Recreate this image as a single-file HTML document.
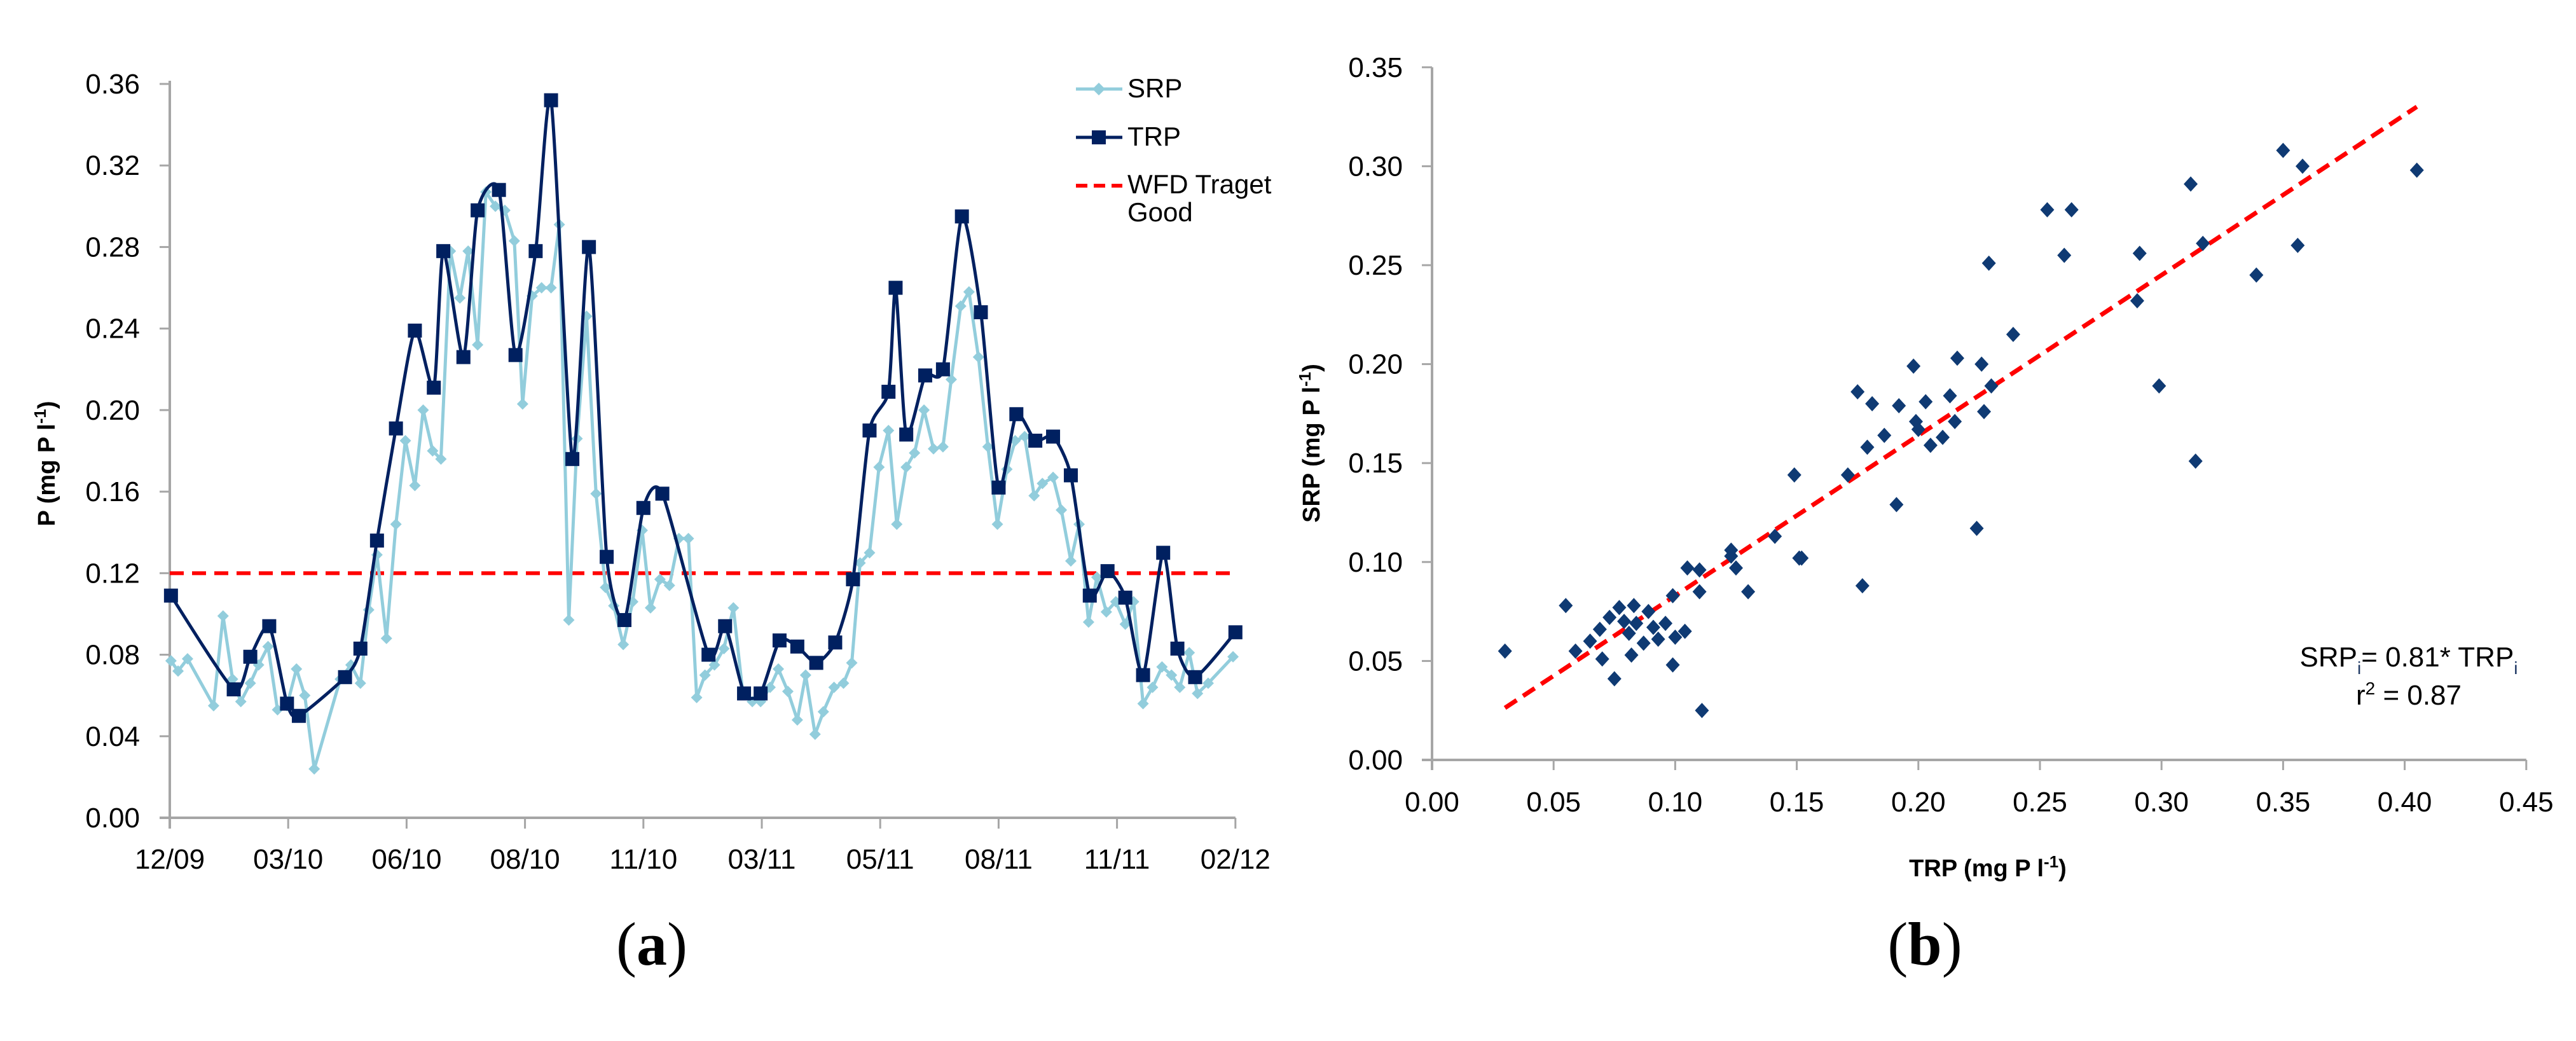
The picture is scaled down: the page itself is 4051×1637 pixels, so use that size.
<!DOCTYPE html>
<html><head><meta charset="utf-8">
<style>
html,body{margin:0;padding:0;background:#fff;}
svg{display:block;}
text{font-family:"Liberation Sans",sans-serif;fill:#000;}
</style></head>
<body>
<svg id="fig" width="4051" height="1637" viewBox="0 0 4051 1637" xmlns="http://www.w3.org/2000/svg">
<g id="chartA"></g>
<g id="chartB"></g>
</svg>
<script>
// ---- Chart (a) data ----
const xTickLabelsA = ["12/09","03/10","06/10","08/10","11/10","03/11","05/11","08/11","11/11","02/12"];
const yTicksA = [0,0.04,0.08,0.12,0.16,0.20,0.24,0.28,0.32,0.36];
const trpT = [0.01,0.54,0.68,0.84,0.99,1.09,1.48,1.61,1.75,1.91,2.07,2.23,2.31,2.48,2.60,2.78,2.92,3.09,3.22,3.40,3.54,3.69,3.84,4.00,4.16,4.55,4.69,4.85,4.99,5.15,5.30,5.46,5.62,5.77,5.91,6.07,6.13,6.22,6.38,6.53,6.69,6.85,7.00,7.15,7.31,7.46,7.61,7.77,7.92,8.07,8.22,8.39,8.51,8.66,9.00];
const trpV = [0.109,0.063,0.079,0.094,0.056,0.050,0.069,0.083,0.136,0.191,0.239,0.211,0.278,0.226,0.298,0.308,0.227,0.278,0.352,0.176,0.280,0.128,0.097,0.152,0.159,0.080,0.094,0.061,0.061,0.087,0.084,0.076,0.086,0.117,0.190,0.209,0.260,0.188,0.217,0.220,0.295,0.248,0.162,0.198,0.185,0.187,0.168,0.109,0.121,0.108,0.070,0.130,0.083,0.069,0.091];
const srpT = [0.01,0.07,0.15,0.37,0.45,0.53,0.60,0.68,0.75,0.83,0.91,0.99,1.07,1.14,1.22,1.44,1.53,1.61,1.68,1.75,1.83,1.91,1.99,2.07,2.14,2.22,2.29,2.37,2.45,2.52,2.60,2.67,2.75,2.83,2.91,2.98,3.06,3.14,3.22,3.29,3.37,3.44,3.52,3.60,3.68,3.75,3.83,3.91,3.99,4.06,4.14,4.22,4.30,4.38,4.45,4.52,4.60,4.68,4.76,4.84,4.92,4.99,5.07,5.14,5.22,5.30,5.37,5.45,5.52,5.61,5.69,5.76,5.83,5.91,5.99,6.07,6.14,6.22,6.29,6.37,6.45,6.53,6.60,6.68,6.75,6.83,6.91,6.99,7.07,7.14,7.22,7.30,7.37,7.46,7.53,7.61,7.68,7.76,7.83,7.91,7.99,8.07,8.14,8.22,8.30,8.38,8.46,8.53,8.61,8.68,8.77,8.98];
const srpV = [0.077,0.072,0.078,0.055,0.099,0.068,0.057,0.066,0.075,0.084,0.053,0.055,0.073,0.060,0.024,0.068,0.075,0.066,0.102,0.129,0.088,0.144,0.185,0.163,0.200,0.180,0.176,0.278,0.255,0.278,0.232,0.307,0.300,0.298,0.283,0.203,0.256,0.260,0.260,0.291,0.097,0.186,0.246,0.159,0.113,0.104,0.085,0.106,0.141,0.103,0.117,0.114,0.137,0.137,0.059,0.070,0.075,0.083,0.103,0.061,0.057,0.057,0.064,0.073,0.062,0.048,0.070,0.041,0.052,0.064,0.066,0.076,0.125,0.130,0.172,0.190,0.144,0.172,0.179,0.200,0.181,0.182,0.215,0.251,0.258,0.226,0.182,0.144,0.171,0.185,0.187,0.158,0.164,0.167,0.151,0.126,0.144,0.096,0.118,0.101,0.106,0.095,0.106,0.056,0.064,0.074,0.070,0.064,0.081,0.061,0.066,0.079];
const targetA = 0.12;

// ---- Chart (b) data ----
const xTicksB = [0,0.05,0.10,0.15,0.20,0.25,0.30,0.35,0.40,0.45];
const yTicksB = [0,0.05,0.10,0.15,0.20,0.25,0.30,0.35];
const scatTRP = [0.030,0.055,0.059,0.065,0.069,0.070,0.073,0.075,0.077,0.079,0.081,0.082,0.083,0.084,0.087,0.089,0.091,0.093,0.096,0.099,0.099,0.100,0.104,0.105,0.110,0.110,0.111,0.123,0.123,0.125,0.130,0.141,0.149,0.151,0.152,0.171,0.175,0.177,0.179,0.181,0.186,0.191,0.192,0.198,0.199,0.200,0.203,0.205,0.210,0.213,0.215,0.216,0.224,0.226,0.227,0.229,0.230,0.239,0.253,0.260,0.263,0.290,0.291,0.299,0.312,0.314,0.317,0.339,0.350,0.356,0.358,0.405];
const scatSRP = [0.055,0.078,0.055,0.060,0.066,0.051,0.072,0.041,0.077,0.070,0.064,0.053,0.078,0.069,0.059,0.075,0.067,0.061,0.069,0.083,0.048,0.062,0.065,0.097,0.096,0.085,0.025,0.106,0.103,0.097,0.085,0.113,0.144,0.102,0.102,0.144,0.186,0.088,0.158,0.180,0.164,0.129,0.179,0.199,0.171,0.167,0.181,0.159,0.163,0.184,0.171,0.203,0.117,0.200,0.176,0.251,0.189,0.215,0.278,0.255,0.278,0.232,0.256,0.189,0.291,0.151,0.261,0.245,0.308,0.260,0.300,0.298];
const fitSlope = 0.81, fitIntercept = 0.002, fitRange = [0.03, 0.405];

const NS = "http://www.w3.org/2000/svg";
function mk(parent, tag, attrs, txt){
  const e = document.createElementNS(NS, tag);
  for (const k in attrs) e.setAttribute(k, attrs[k]);
  if (txt !== undefined) e.textContent = txt;
  parent.appendChild(e); return e;
}
const AXC = "#A6A6A6";

// ===== Chart A =====
const A = document.getElementById('chartA');
const ax0 = 267, axStep = 186.2, ay0 = 1286, ayTop = 132;
const xA = t => ax0 + t * axStep;
const yA = v => ay0 - v / 0.36 * (ay0 - ayTop);

yTicksA.forEach(v => {
  const y = yA(v);
  const tk = mk(A, 'line', {x1: 251, x2: ax0, y1: y, y2: y, stroke: AXC, 'stroke-width': 3});
  
  
  const lb = mk(A, 'text', {x: 220, y: y + 15, 'font-size': 44, 'text-anchor': 'end'}, v.toFixed(2));
  
  
});
xTickLabelsA.forEach((s, i) => {
  const x = xA(i);
  const tk = mk(A, 'line', {x1: x, x2: x, y1: ay0, y2: ay0 + 17, stroke: AXC, 'stroke-width': 3});
  
  
  const lb = mk(A, 'text', {x: x, y: 1366, 'font-size': 44, 'text-anchor': 'middle'}, s);
  
  
});
const yaxA = mk(A, 'line', {x1: ax0, x2: ax0, y1: ayTop - 5, y2: ay0 + 17, stroke: AXC, 'stroke-width': 4});


const xaxA = mk(A, 'line', {x1: 251, x2: xA(9), y1: ay0, y2: ay0, stroke: AXC, 'stroke-width': 4});



const ytA = mk(A, 'text', {x: 0, y: 0, 'font-size': 38, 'font-weight': 'bold', 'text-anchor': 'middle', transform: 'translate(86,729) rotate(-90)'});


ytA.innerHTML = 'P (mg P l<tspan dy="-14" font-size="26">-1</tspan><tspan dy="14">)</tspan>';

// target line
const tl = mk(A, 'line', {x1: ax0, x2: xA(9), y1: yA(targetA), y2: yA(targetA), stroke: '#FF0000', 'stroke-width': 6, 'stroke-dasharray': '22 13'});



// SRP line
let d = srpT.map((t, i) => (i ? 'L' : 'M') + xA(t).toFixed(1) + ' ' + yA(srpV[i]).toFixed(1)).join(' ');
const sl = mk(A, 'path', {d: d, fill: 'none', stroke: '#92CDDC', 'stroke-width': 5, 'stroke-linejoin': 'round'});


srpT.forEach((t, i) => {
  const x = xA(t), y = yA(srpV[i]);
  const m = mk(A, 'path', {d: `M${x} ${y-9} L${x+9} ${y} L${x} ${y+9} L${x-9} ${y} Z`, fill: '#92CDDC'});
  
  
});

// TRP smoothed line (Catmull-Rom, reduced tension)
const P = trpT.map((t, i) => [xA(t), yA(trpV[i])]);
let dd = 'M' + P[0][0] + ' ' + P[0][1];
for (let i = 0; i < P.length - 1; i++) {
  const p0 = P[i - 1] || P[i], p1 = P[i], p2 = P[i + 1], p3 = P[i + 2] || P[i + 1];
  const k = 1 / 9;
  const c1 = [p1[0] + (p2[0] - p0[0]) * k, p1[1] + (p2[1] - p0[1]) * k];
  const c2 = [p2[0] - (p3[0] - p1[0]) * k, p2[1] - (p3[1] - p1[1]) * k];
  dd += ` C${c1[0].toFixed(1)} ${c1[1].toFixed(1)} ${c2[0].toFixed(1)} ${c2[1].toFixed(1)} ${p2[0].toFixed(1)} ${p2[1].toFixed(1)}`;
}
const tr = mk(A, 'path', {d: dd, fill: 'none', stroke: '#002060', 'stroke-width': 5, 'stroke-linejoin': 'round'});


P.forEach(p => {
  const m = mk(A, 'rect', {x: p[0] - 11, y: p[1] - 11, width: 22, height: 22, fill: '#002060'});
  
  
});

// legend
const lg = mk(A, 'g', {});


const l1 = mk(lg, 'line', {x1: 1692, x2: 1765, y1: 140, y2: 140, stroke: '#92CDDC', 'stroke-width': 5});


const l1m = mk(lg, 'path', {d: 'M1728 130 L1738 140 L1728 150 L1718 140 Z', fill: '#92CDDC'});


const l1t = mk(lg, 'text', {x: 1773, y: 153, 'font-size': 42}, 'SRP');


const l2 = mk(lg, 'line', {x1: 1692, x2: 1765, y1: 216, y2: 216, stroke: '#002060', 'stroke-width': 5});


const l2m = mk(lg, 'rect', {x: 1717, y: 205, width: 22, height: 22, fill: '#002060'});


const l2t = mk(lg, 'text', {x: 1773, y: 229, 'font-size': 42}, 'TRP');


const l3 = mk(lg, 'line', {x1: 1692, x2: 1765, y1: 292, y2: 292, stroke: '#FF0000', 'stroke-width': 6, 'stroke-dasharray': '18 10'});


const l3t = mk(lg, 'text', {x: 1773, y: 304, 'font-size': 42}, 'WFD Traget');


const l3u = mk(lg, 'text', {x: 1773, y: 348, 'font-size': 42}, 'Good');



const capA = mk(A, 'text', {x: 1025, y: 1517, 'font-size': 96, 'text-anchor': 'middle', style: 'font-family:"Liberation Serif",serif'});


capA.innerHTML = '(<tspan font-weight="bold">a</tspan>)';

// ===== Chart B =====
const B = document.getElementById('chartB');
const bx0 = 2252, bxPer = 191.2 / 0.05, by0 = 1195, byPer = 155.6 / 0.05;
const xB = v => bx0 + v * bxPer;
const yB = v => by0 - v * byPer;

yTicksB.forEach(v => {
  const y = yB(v);
  const tk = mk(B, 'line', {x1: 2236, x2: bx0, y1: y, y2: y, stroke: AXC, 'stroke-width': 3});
  
  
  const lb = mk(B, 'text', {x: 2206, y: y + 15, 'font-size': 44, 'text-anchor': 'end'}, v.toFixed(2));
  
  
});
xTicksB.forEach(v => {
  const x = xB(v);
  const tk = mk(B, 'line', {x1: x, x2: x, y1: by0, y2: by0 + 16, stroke: AXC, 'stroke-width': 3});
  
  
  const lb = mk(B, 'text', {x: x, y: 1276, 'font-size': 44, 'text-anchor': 'middle'}, v.toFixed(2));
  
  
});
const yaxB = mk(B, 'line', {x1: bx0, x2: bx0, y1: yB(0.35), y2: by0 + 16, stroke: AXC, 'stroke-width': 4});


const xaxB = mk(B, 'line', {x1: 2236, x2: xB(0.45), y1: by0, y2: by0, stroke: AXC, 'stroke-width': 4});



const ytB = mk(B, 'text', {x: 0, y: 0, 'font-size': 38, 'font-weight': 'bold', 'text-anchor': 'middle', transform: 'translate(2075,697) rotate(-90)'});


ytB.innerHTML = 'SRP (mg P l<tspan dy="-14" font-size="26">-1</tspan><tspan dy="14">)</tspan>';
const xtB = mk(B, 'text', {x: 3126, y: 1378, 'font-size': 38, 'font-weight': 'bold', 'text-anchor': 'middle'});


xtB.innerHTML = 'TRP (mg P l<tspan dy="-14" font-size="26">-1</tspan><tspan dy="14">)</tspan>';

// fit line
const fl = mk(B, 'line', {x1: xB(fitRange[0]), y1: yB(fitSlope * fitRange[0] + fitIntercept), x2: xB(fitRange[1]), y2: yB(fitSlope * fitRange[1] + fitIntercept), stroke: '#FF0000', 'stroke-width': 7, 'stroke-dasharray': '22 12'});



scatTRP.forEach((v, i) => {
  const x = xB(v), y = yB(scatSRP[i]);
  const m = mk(B, 'path', {d: `M${x} ${y-12} L${x+11} ${y} L${x} ${y+12} L${x-11} ${y} Z`, fill: '#0F3A73'});
  
  
});

const eq = mk(B, 'text', {x: 3788, y: 1048, 'font-size': 44, 'text-anchor': 'middle'});


eq.innerHTML = 'SRP<tspan dy="12" font-size="28" fill="#1F3864">i</tspan><tspan dy="-12">= 0.81* TRP</tspan><tspan dy="12" font-size="28" fill="#1F3864">i</tspan>';
const r2 = mk(B, 'text', {x: 3788, y: 1108, 'font-size': 44, 'text-anchor': 'middle'});


r2.innerHTML = 'r<tspan dy="-16" font-size="28">2</tspan><tspan dy="16"> = 0.87</tspan>';

const capB = mk(B, 'text', {x: 3027, y: 1517, 'font-size': 96, 'text-anchor': 'middle', style: 'font-family:"Liberation Serif",serif'});


capB.innerHTML = '(<tspan font-weight="bold">b</tspan>)';
</script>
</body></html>
